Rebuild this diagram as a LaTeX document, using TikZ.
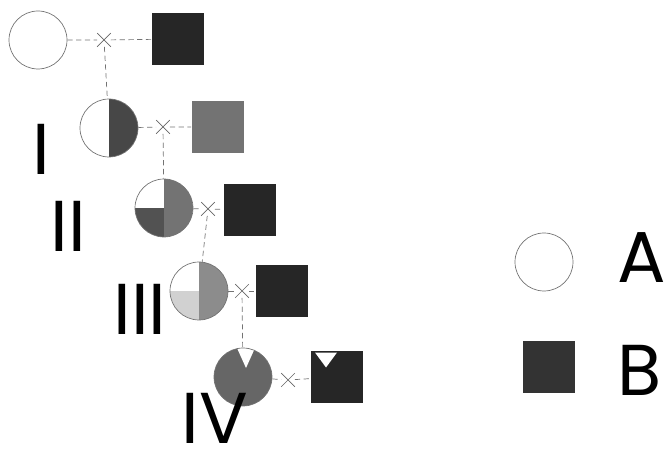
\documentclass[tikz,border=0pt]{standalone}
\usepackage{fontspec}
\setmainfont{Poppins}
\usetikzlibrary{calc,shapes.misc,positioning}

\begin{document}
\begin{tikzpicture}[x=0.02cm,y=-0.02cm,
  parent/.style={circle,draw=black!55,thin,minimum size=1.16cm,inner sep=0pt},
  male/.style={rectangle,fill=black!85,minimum size=1.06cm,inner sep=0pt},
  crossmark/.style={cross out,draw=black!60,thin,minimum size=0.26cm,inner sep=0pt},
  link/.style={draw=black!55,thin,densely dashed},
  gen/.style={font=\fontsize{41}{41}\selectfont,inner sep=0pt}]
\useasboundingbox (0,0) rectangle (667,452);
% P: A x B
\node[parent] (A0) at (38,40) {};
\node[male] (B0) at (178,39) {};
\node[crossmark] (x0) at (104,40) {};
\draw[link] (A0) -- (x0) -- (B0);
% I
\node[parent,path picture={\fill[black!72] (path picture bounding box.north) rectangle (path picture bounding box.south east);}] (C1) at (109,128) {};
\node[male,fill=black!55] (S1) at (218,127) {};
\node[crossmark] (x1) at (163,127) {};
\draw[link] (x0) -- (C1);
\draw[link] (C1) -- (x1) -- (S1);
\node[gen] (g1) at (41,149) {I};
% II
\node[parent,path picture={
  \fill[black!55] (path picture bounding box.north) rectangle (path picture bounding box.south east);
  \fill[black!68] (path picture bounding box.west) rectangle (path picture bounding box.south);}] (C2) at (164,208) {};
\node[male] (S2) at (250,210) {};
\node[crossmark] (x2) at (208,209) {};
\draw[link] (x1) -- (C2);
\draw[link] (C2) -- (x2) -- (S2);
\node[gen] (g2) at (68,226) {II};
% III
\node[parent,path picture={
  \fill[black!45] (path picture bounding box.north) rectangle (path picture bounding box.south east);
  \fill[black!18] (path picture bounding box.west) rectangle (path picture bounding box.south);}] (C3) at (199,291) {};
\node[male] (S3) at (282,291) {};
\node[crossmark] (x3) at (242,291) {};
\draw[link] (x2) -- (C3);
\draw[link] (C3) -- (x3) -- (S3);
\node[gen] (g3) at (140,309) {III};
% IV
\node[parent,path picture={
  \fill[black!60] (path picture bounding box.south west) rectangle (path picture bounding box.north east);
  \fill[white] ($(path picture bounding box.north)+(-6,0)$) -- ($(path picture bounding box.north)+(12,0)$) -- ($(path picture bounding box.north)+(3,20)$) -- cycle;}] (C4) at (243,377) {};
\node[male,path picture={
  \fill[white] ($(path picture bounding box.north)+(-22,2)$) -- ($(path picture bounding box.north)+(0,2)$) -- ($(path picture bounding box.north)+(-11,17)$) -- cycle;}] (S4) at (337,377) {};
\node[crossmark] (x4) at (288,380) {};
\draw[link] (x3) -- (C4);
\draw[link] (C4) -- (x4) -- (S4);
\node[gen] (g4) at (215,418) {IV};
% key
\node[parent] (keyA) at (544,262) {};
\node[male,fill=black!80] (keyB) at (549,367) {};
\node[gen] (labA) at (642,258) {A};
\node[gen] (labB) at (640,370) {B};
\end{tikzpicture}
\end{document}
